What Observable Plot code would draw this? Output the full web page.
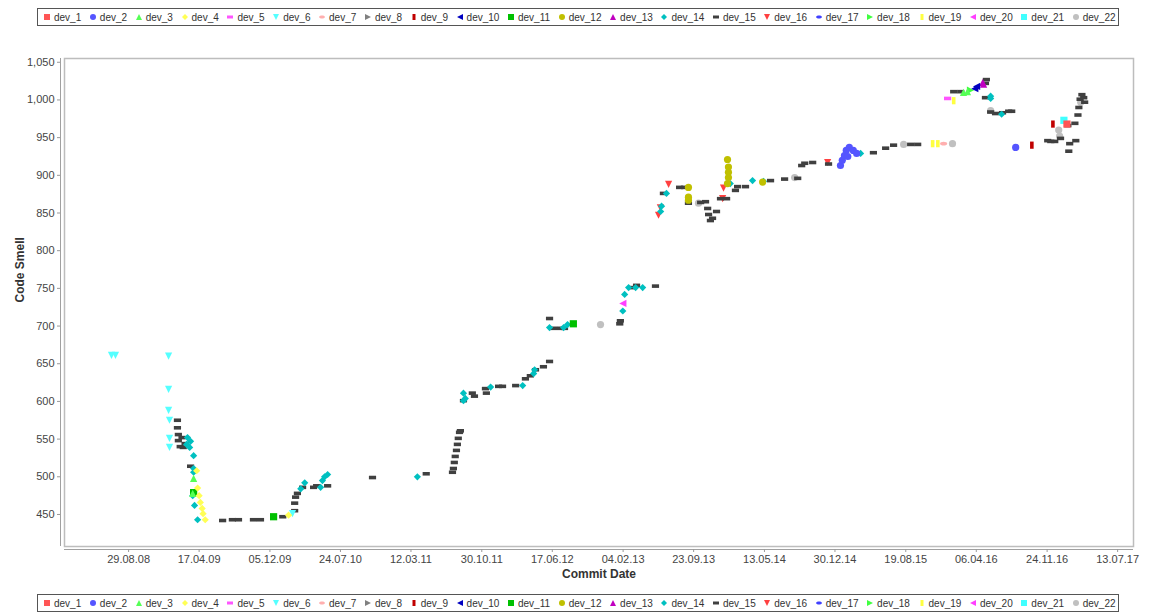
<!DOCTYPE html>
<html>
<head>
<meta charset="utf-8">
<script src="https://cdn.jsdelivr.net/npm/d3@7"></script>
<script src="https://cdn.jsdelivr.net/npm/@observablehq/plot@0.6"></script>
<style>
  html, body { margin: 0; padding: 0; background: #fff; width: 1165px; height: 612px; overflow: hidden; position: relative; }
  .legend { position: absolute; left: 37px; width: 1082px; height: 18px; box-sizing: border-box; border: 1px solid #555;
    display: flex; align-items: center; padding-left: 5px; font-family: "Liberation Sans", Arial, sans-serif; font-size: 10px; color: #333; background: #fff; }
  .legend .item { display: flex; align-items: center; margin-right: 7.6px; white-space: nowrap; }
  .legend svg { width: 8px; height: 8px; margin-right: 3px; overflow: visible; }
  #chart { position: absolute; left: 0; top: 30px; }
</style>
</head>
<body>
<div class="legend" id="legTop" style="top:8px"></div>
<div id="chart"></div>
<div class="legend" id="legBottom" style="top:594px"></div>
<script>
// ---- data: [commit date, code smell] per developer ----
const dev_1 = [["2017-01-28", 968]];
const dev_2 = [["2015-01-17", 913], ["2015-01-23", 920], ["2015-01-30", 926], ["2015-02-05", 933], ["2015-02-15", 937], ["2015-02-28", 933], ["2015-03-11", 929], ["2015-02-10", 925], ["2016-08-13", 937]];
const dev_3 = [["2009-03-30", 498], ["2009-03-27", 478], ["2016-02-24", 1010], ["2016-03-08", 1011]];
const dev_4 = [["2009-04-09", 508], ["2009-04-12", 485], ["2009-04-17", 475], ["2009-04-21", 466], ["2009-04-27", 458], ["2009-04-30", 451], ["2009-05-07", 443], ["2010-02-04", 449]];
const dev_5 = [["2016-01-03", 1002]];
const dev_6 = [["2008-07-04", 661], ["2008-07-17", 661], ["2009-01-07", 660], ["2009-01-07", 616], ["2009-01-07", 588], ["2009-01-10", 575], ["2009-01-10", 551], ["2009-01-10", 539], ["2010-02-17", 451]];
const dev_7 = [["2015-12-21", 942]];
const dev_8 = [];
const dev_9 = [["2016-10-05", 940], ["2016-12-13", 968]];
const dev_10 = [["2016-04-07", 1018], ["2016-04-01", 1015]];
const dev_11 = [["2009-12-17", 447], ["2009-03-30", 479], ["2012-08-25", 703]];
const dev_12 = [["2013-09-06", 884], ["2013-09-06", 871], ["2013-09-06", 867], ["2014-01-12", 921], ["2014-01-15", 911], ["2014-01-15", 904], ["2014-01-15", 897], ["2014-01-12", 889], ["2014-05-07", 891]];
const dev_13 = [["2016-04-27", 1023], ["2016-04-30", 1021]];
const dev_14 = [["2009-03-10", 552], ["2009-03-20", 547], ["2009-03-07", 543], ["2009-03-17", 539], ["2009-03-30", 528], ["2009-03-30", 511], ["2009-03-30", 506], ["2009-03-27", 475], ["2009-04-02", 462], ["2009-04-12", 443],
  ["2010-03-16", 484], ["2010-03-29", 492], ["2010-05-20", 486], ["2010-05-26", 495], ["2010-06-02", 500], ["2010-06-12", 503], ["2011-04-02", 500],
  ["2011-08-31", 611], ["2011-08-31", 601], ["2011-09-06", 604], ["2011-11-28", 619], ["2012-03-12", 621], ["2012-04-17", 637], ["2012-04-20", 642],
  ["2012-06-08", 698], ["2012-07-24", 698], ["2012-08-06", 702], ["2013-02-03", 720], ["2013-02-09", 742], ["2013-02-22", 751], ["2013-03-17", 751], ["2013-04-09", 751],
  ["2013-06-07", 852], ["2013-06-10", 859], ["2013-06-26", 876], ["2014-01-21", 889], ["2014-04-04", 893], ["2014-05-10", 892], ["2015-03-24", 929],
  ["2016-05-23", 1005], ["2016-05-23", 1002], ["2016-06-28", 981]];
const dev_15 = [["2009-02-05", 575], ["2009-02-05", 565], ["2009-02-08", 556], ["2009-02-08", 548], ["2009-02-14", 540], ["2009-02-24", 539], ["2009-03-02", 544], ["2009-02-20", 552], ["2009-03-20", 514],
  ["2009-07-03", 442], ["2009-08-04", 443], ["2009-08-24", 443], ["2009-10-12", 443], ["2009-11-04", 443],
  ["2010-01-16", 447], ["2010-02-24", 455], ["2010-02-24", 465], ["2010-02-27", 473], ["2010-03-05", 478], ["2010-03-22", 486], ["2010-04-27", 486], ["2010-05-07", 488], ["2010-06-12", 488],
  ["2010-11-06", 499], ["2011-05-01", 504],
  ["2011-07-26", 506], ["2011-07-29", 511], ["2011-08-01", 519], ["2011-08-04", 527], ["2011-08-08", 535], ["2011-08-11", 543], ["2011-08-14", 551], ["2011-08-18", 559], ["2011-08-21", 561],
  ["2011-08-31", 601], ["2011-09-29", 611], ["2011-10-06", 607], ["2011-11-11", 617], ["2011-11-14", 611], ["2011-12-24", 620], ["2012-01-06", 620], ["2012-02-18", 621],
  ["2012-03-21", 630], ["2012-04-06", 634], ["2012-04-23", 642], ["2012-05-19", 646], ["2012-06-08", 653], ["2012-06-08", 710], ["2012-06-21", 697], ["2012-07-14", 697], ["2012-07-27", 697],
  ["2013-01-24", 703], ["2013-01-26", 707], ["2013-03-07", 751], ["2013-03-20", 754], ["2013-05-21", 753],
  ["2013-06-16", 876], ["2013-08-08", 884], ["2013-08-24", 884], ["2013-09-06", 863], ["2013-10-16", 864], ["2013-11-01", 865], ["2013-11-08", 856], ["2013-11-11", 848], ["2013-11-17", 840], ["2013-11-24", 843],
  ["2013-12-07", 852], ["2013-12-20", 869], ["2014-01-09", 869], ["2014-02-07", 880], ["2014-02-14", 885], ["2014-03-12", 885],
  ["2014-06-02", 893], ["2014-07-18", 895], ["2014-08-30", 896], ["2014-09-12", 913], ["2014-09-22", 916], ["2014-10-18", 917], ["2014-12-09", 915],
  ["2015-05-05", 930], ["2015-06-14", 936], ["2015-07-10", 940], ["2015-09-04", 941], ["2015-09-27", 941],
  ["2016-01-23", 1011], ["2016-02-15", 1011], ["2016-05-06", 1022], ["2016-05-09", 1027], ["2016-05-06", 1003], ["2016-05-23", 984], ["2016-06-08", 982], ["2016-07-01", 983], ["2016-07-21", 985], ["2016-07-31", 985],
  ["2016-11-26", 946], ["2016-12-06", 945], ["2016-12-19", 945], ["2017-01-07", 949], ["2017-02-06", 942], ["2017-02-26", 946], ["2017-02-03", 932],
  ["2017-01-31", 966], ["2017-02-23", 969], ["2017-03-05", 980], ["2017-03-08", 990], ["2017-03-12", 1001], ["2017-03-24", 1003], ["2017-03-27", 997], ["2017-03-18", 1007]];
const dev_16 = [["2013-07-03", 888], ["2013-05-31", 847], ["2013-06-06", 857], ["2013-12-27", 869], ["2013-12-30", 883], ["2014-12-06", 917]];
const dev_17 = [];
const dev_18 = [["2016-03-18", 1013]];
const dev_19 = [["2016-01-23", 999], ["2015-11-15", 942], ["2015-12-02", 942]];
const dev_20 = [["2013-02-03", 730]];
const dev_21 = [["2017-01-18", 973]];
const dev_22 = [["2012-11-22", 702], ["2013-10-09", 863], ["2014-08-20", 897], ["2015-08-12", 941], ["2016-01-19", 942], ["2016-05-23", 986], ["2017-01-01", 960], ["2017-01-04", 952], ["2017-03-14", 997]];

const devNames = ["dev_1","dev_2","dev_3","dev_4","dev_5","dev_6","dev_7","dev_8","dev_9","dev_10","dev_11",
  "dev_12","dev_13","dev_14","dev_15","dev_16","dev_17","dev_18","dev_19","dev_20","dev_21","dev_22"];
const devData = [dev_1, dev_2, dev_3, dev_4, dev_5, dev_6, dev_7, dev_8, dev_9, dev_10, dev_11,
  dev_12, dev_13, dev_14, dev_15, dev_16, dev_17, dev_18, dev_19, dev_20, dev_21, dev_22];
const devColors = ["#FF5555","#5555FF","#55FF55","#FFFF55","#FF55FF","#55FFFF","#FFAFAF","#808080","#C00000","#0000C0","#00C000",
  "#C0C000","#C000C0","#00C0C0","#404040","#FF4040","#4040FF","#40FF40","#FFFF40","#FF40FF","#40FFFF","#C0C0C0"];

const xTicks = ["2008-08-29","2009-04-17","2009-12-05","2010-07-24","2011-03-12","2011-10-30","2012-06-17","2013-02-04",
  "2013-09-23","2014-05-13","2014-12-30","2015-08-19","2016-04-06","2016-11-24","2017-07-13"];
const yTicks = [450,500,550,600,650,700,750,800,850,900,950,1000,1050];
const xDomain = ["2008-02-01", "2017-09-03"];
const yDomain = [407.5, 1055];

// ---- shapes (JFreeChart default sequence) ----
const rOf = size => Math.sqrt(size / Math.PI);
const shapes = [
  {draw(c, s){ const r = rOf(s); c.rect(-r, -r, 2*r, 2*r); }},                       // square
  {draw(c, s){ const r = rOf(s); c.moveTo(r, 0); c.arc(0, 0, r, 0, 2*Math.PI); }},      // circle
  {draw(c, s){ const r = rOf(s); c.moveTo(0, -r); c.lineTo(r, r); c.lineTo(-r, r); c.closePath(); }}, // up triangle
  {draw(c, s){ const r = rOf(s); c.moveTo(0, -r); c.lineTo(r, 0); c.lineTo(0, r); c.lineTo(-r, 0); c.closePath(); }}, // diamond
  {draw(c, s){ const r = rOf(s); c.rect(-r, -r/2, 2*r, r); }},                           // horizontal rect
  {draw(c, s){ const r = rOf(s); c.moveTo(-r, -r); c.lineTo(r, -r); c.lineTo(0, r); c.closePath(); }}, // down triangle
  {draw(c, s){ const r = rOf(s), ry = r/2, k = 0.5523;                                   // horizontal ellipse
      c.moveTo(r, 0);
      c.bezierCurveTo(r, ry*k, r*k, ry, 0, ry);
      c.bezierCurveTo(-r*k, ry, -r, ry*k, -r, 0);
      c.bezierCurveTo(-r, -ry*k, -r*k, -ry, 0, -ry);
      c.bezierCurveTo(r*k, -ry, r, -ry*k, r, 0); c.closePath(); }},
  {draw(c, s){ const r = rOf(s); c.moveTo(-r, -r); c.lineTo(r, 0); c.lineTo(-r, r); c.closePath(); }}, // right triangle
  {draw(c, s){ const r = rOf(s); c.rect(-r/2, -r, r, 2*r); }},                           // vertical rect
  {draw(c, s){ const r = rOf(s); c.moveTo(r, -r); c.lineTo(-r, 0); c.lineTo(r, r); c.closePath(); }}  // left triangle
];

// ---- chart ----
const dotMarks = [];
for (let i = devNames.length - 1; i >= 0; i--) {
  dotMarks.push(Plot.dot(devData[i], {
    x: d => new Date(d[0]), y: d => d[1],
    symbol: shapes[i % 10], r: 3.6, fill: devColors[i], stroke: "none"
  }));
}

const chart = Plot.plot({
  width: 1165, height: 560,
  marginTop: 28, marginBottom: 44, marginLeft: 64, marginRight: 32,
  style: {fontFamily: "'Liberation Sans', Arial, sans-serif", fontSize: "11px", color: "#444", background: "#fff", overflow: "visible"},
  x: {type: "utc", domain: xDomain.map(d => new Date(d))},
  y: {domain: yDomain},
  marks: [
    Plot.frame({stroke: "#bdbdbd", strokeWidth: 1.5}),
    Plot.ruleX([new Date(xDomain[0])], {dx: -4, stroke: "#a0a0a0"}),
    Plot.ruleY([yDomain[0]], {dy: 3, stroke: "#a0a0a0"}),
    Plot.axisX({ticks: xTicks.map(d => new Date(d)), tickFormat: d3.utcFormat("%d.%m.%y"), tickSize: 3, dy: 3, tickPadding: 3, label: null, stroke: "#999", fill: "#444"}),
    Plot.axisY({ticks: yTicks, tickFormat: d3.format(","), tickSize: 3, dx: -4, tickPadding: 3, label: null, stroke: "#999", fill: "#444"}),
    ...dotMarks,
    Plot.text(["Commit Date"], {frameAnchor: "bottom", dy: 31, fontWeight: "bold", fontSize: 12, fill: "#333"}),
    Plot.text(["Code Smell"], {frameAnchor: "left", dx: -44, rotate: -90, fontWeight: "bold", fontSize: 12, fill: "#333"})
  ]
});
document.getElementById("chart").appendChild(chart);

// ---- legends ----
function buildLegend(el) {
  devNames.forEach((name, i) => {
    const item = document.createElement("span");
    item.className = "item";
    const svg = d3.create("svg").attr("viewBox", "-4 -4 8 8");
    const p = d3.path();
    shapes[i % 10].draw(p, Math.PI * 9);
    svg.append("path").attr("d", p.toString()).attr("fill", devColors[i]);
    item.appendChild(svg.node());
    const t = document.createElement("span");
    t.textContent = name;
    item.appendChild(t);
    el.appendChild(item);
  });
}
buildLegend(document.getElementById("legTop"));
buildLegend(document.getElementById("legBottom"));
</script>
</body>
</html>
